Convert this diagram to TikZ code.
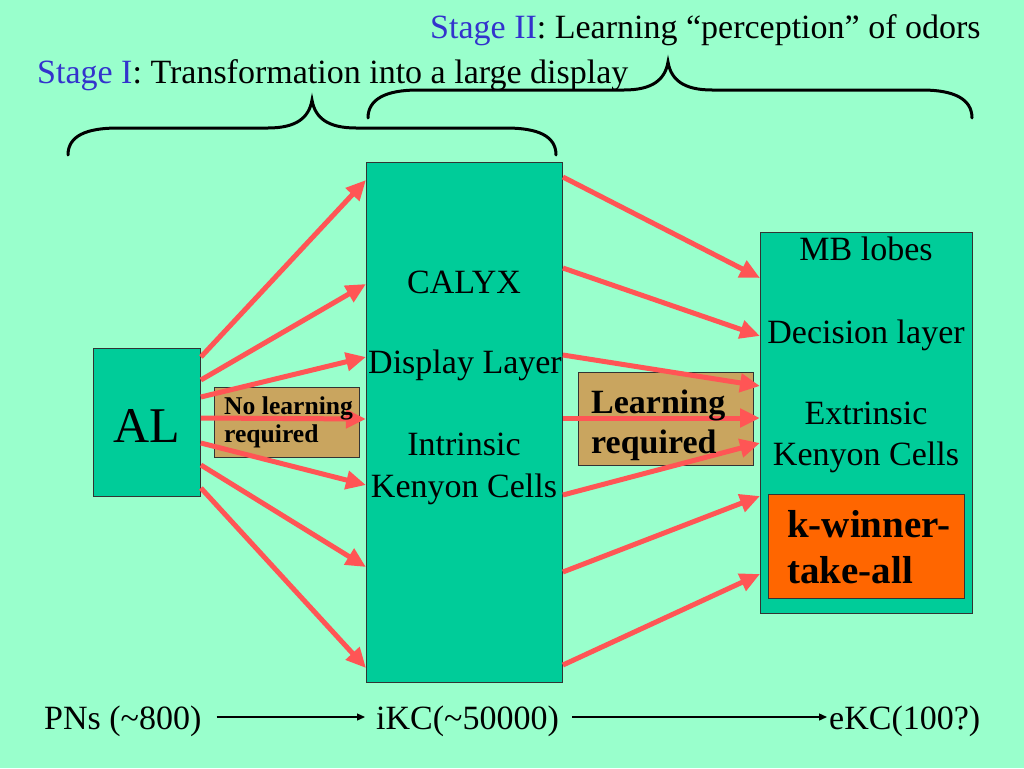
\documentclass[tikz,border=0pt]{standalone}
\usepackage{fontspec}
\setmainfont{Liberation Serif}
\usetikzlibrary{arrows.meta}
\definecolor{bgmint}{HTML}{99FFCC}
\definecolor{boxteal}{HTML}{00CC99}
\definecolor{boxtan}{HTML}{C9A55F}
\definecolor{korange}{HTML}{FF6600}
\definecolor{arrred}{HTML}{FF5555}
\definecolor{stageblue}{HTML}{3333CC}
\tikzset{
  boxnode/.style={draw=black!80, line width=0.9pt, inner sep=0pt, anchor=north west},
  txt/.style={font=\fontsize{34}{41}\selectfont, inner sep=0pt, anchor=base},
  txtw/.style={font=\fontsize{34}{41}\selectfont, inner sep=0pt, anchor=base west},
  boldsmall/.style={font=\fontsize{25.6}{28}\selectfont\bfseries, inner sep=0pt, anchor=base west},
  boldmid/.style={font=\fontsize{34}{40}\selectfont\bfseries, inner sep=0pt, anchor=base west},
  boldbig/.style={font=\fontsize{39}{46}\selectfont\bfseries, inner sep=0pt, anchor=base west},
  redarr/.style={draw=arrred, line width=5pt, -{Triangle[length=20pt,width=18pt]}},
  thinarr/.style={draw=black, line width=1.3pt, -{Triangle[length=8pt,width=7pt]}},
  bracestyle/.style={draw=black, line width=3pt, line cap=round}
}
\begin{document}
\begin{tikzpicture}[x=1pt,y=-1pt]
\fill[bgmint] (0,0) rectangle (1024,768);
\useasboundingbox (0,0) rectangle (1024,768);

% boxes
\node[boxnode, fill=boxteal, minimum width=107pt, minimum height=148pt] (al) at (93,348) {};
\node[font=\fontsize{50}{55}\selectfont, inner sep=0pt, anchor=base] (allbl) at (146.5,442) {AL};
\node[boxnode, fill=boxteal, minimum width=196pt, minimum height=520pt] (calyx) at (366,162) {};
\node[boxnode, fill=boxteal, minimum width=212pt, minimum height=381pt] (mb) at (760,232) {};
\node[boxnode, fill=korange, minimum width=196pt, minimum height=104pt] (kwta) at (768,494) {};
\node[boxnode, fill=boxtan, minimum width=145pt, minimum height=70pt] (nolearn) at (214,387) {};
\node[boxnode, fill=boxtan, minimum width=175pt, minimum height=93pt] (learn) at (578,372) {};

% texts inside boxes
\node[txt] (c1) at (464,293) {CALYX};
\node[txt] (c2) at (465,373) {Display Layer};
\node[txt] (c3) at (464,455) {Intrinsic};
\node[txt] (c4) at (464,497) {Kenyon Cells};
\node[txt] (m1) at (866,260) {MB lobes};
\node[txt] (m2) at (866,343) {Decision layer};
\node[txt] (m3) at (866,424) {Extrinsic};
\node[txt] (m4) at (866,465) {Kenyon Cells};
\node[boldbig] (k1) at (787,537) {k-winner-};
\node[boldbig] (k2) at (787,583) {take-all};

% red arrows AL -> calyx
\draw[redarr] (al.east |- 0,357) -- (calyx.west |- 0,180);
\draw[redarr] (al.east |- 0,380) -- (calyx.west |- 0,284);
\draw[redarr] (al.east |- 0,397) -- (calyx.west |- 0,357);
\draw[redarr] (al.east |- 0,418) -- (calyx.west |- 0,419);
\draw[redarr] (al.east |- 0,443) -- (calyx.west |- 0,485);
\draw[redarr] (al.east |- 0,465) -- (calyx.west |- 0,567);
\draw[redarr] (al.east |- 0,488) -- (calyx.west |- 0,668);

% red arrows calyx -> MB
\draw[redarr] (calyx.east |- 0,177) -- (mb.west |- 0,278);
\draw[redarr] (calyx.east |- 0,268) -- (mb.west |- 0,336);
\draw[redarr] (calyx.east |- 0,355) -- (mb.west |- 0,386);
\draw[redarr] (calyx.east |- 0,418) -- (mb.west |- 0,418);
\draw[redarr] (calyx.east |- 0,495) -- (mb.west |- 0,443);
\draw[redarr] (calyx.east |- 0,572) -- (mb.west |- 0,496);
\draw[redarr] (calyx.east |- 0,665) -- (mb.west |- 0,574);

% labels of the two tan boxes, on top of the arrows
\node[boldsmall] (n1) at (224,414) {No learning};
\node[boldsmall] (n2) at (224,442) {required};
\node[boldmid] (l1) at (591,413) {Learning};
\node[boldmid] (l2) at (591,453) {required};

% headings
\node[txtw] (stage2) at (430,39) {\textcolor{stageblue}{Stage II}: Learning “perception” of odors};
\node[txtw] (stage1) at (37,83) {\textcolor{stageblue}{Stage I}: Transformation into a large display};

% braces
\draw[bracestyle] (68,155) .. controls (68,136) and (86,128) .. (118,128) -- (268,128)
  .. controls (296,128) and (309,118) .. (312,100)
  .. controls (315,118) and (328,128) .. (356,128) -- (506,128)
  .. controls (538,128) and (556,136) .. (556,155);
\draw[bracestyle] (368,118) .. controls (368,99) and (386,90) .. (418,90) -- (624,90)
  .. controls (652,90) and (665,80) .. (668,62)
  .. controls (671,80) and (684,90) .. (712,90) -- (922,90)
  .. controls (954,90) and (972,99) .. (972,118);

% bottom line
\node[txtw] (pns) at (44,729) {PNs (\textasciitilde 800)};
\node[txtw] (ikc) at (376,729) {iKC(\textasciitilde 50000)};
\node[txtw] (ekc) at (829,729) {eKC(100?)};
\draw[thinarr] ([xshift=15pt,yshift=12pt]pns.base east) -- ([xshift=-11pt,yshift=12pt]ikc.base west);
\draw[thinarr] ([xshift=13pt,yshift=12pt]ikc.base east) -- ([xshift=-2pt,yshift=12pt]ekc.base west);
\end{tikzpicture}
\end{document}
